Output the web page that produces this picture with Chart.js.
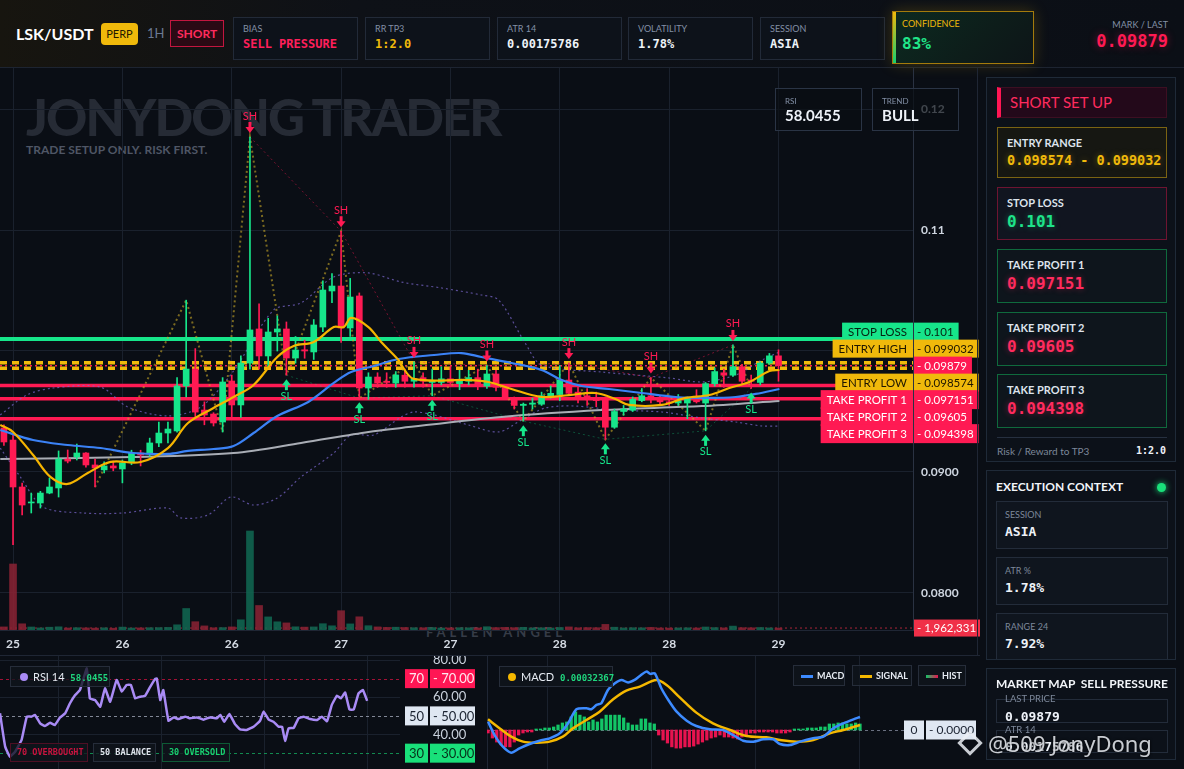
<!DOCTYPE html>
<html>
<head>
<meta charset="utf-8">
<title>LSK/USDT short setup</title>
<script src="https://cdn.jsdelivr.net/npm/chart.js@4.4.1/dist/chart.umd.min.js"></script>
<style>
  * { box-sizing: border-box; margin: 0; padding: 0; }
  body { width: 1184px; height: 769px; overflow: hidden; background: #0a0e15; color: #e6ebf2;
         font-family: Lato, "Noto Sans", sans-serif; position: relative; }
  .abs { position: absolute; }
  .mono { font-family: "DejaVu Sans Mono", "Liberation Mono", monospace; font-weight: bold; }
  #topbar { left: 0; top: 0; width: 1184px; height: 68px; border-bottom: 1px solid #1d2431;
            background: linear-gradient(90deg, #17150f 0%, #0e1117 30%, #0b0f16 100%); }
  .pair { left: 16px; top: 24px; font-size: 16px; font-weight: 700; color: #fff; }
  .perp { left: 101px; top: 23px; width: 37px; height: 22px; border-radius: 4px; background: #f0b90b;
          color: #241a00; font-size: 11px; text-align: center; line-height: 22px; }
  .tf { left: 147px; top: 25px; font-size: 13px; color: #6b7a92; }
  .side { left: 170px; top: 20px; width: 54px; height: 27px; border: 1px solid #c3163f; background: #2a0a14;
          color: #ff2b5e; font-size: 12px; font-weight: 700; text-align: center; line-height: 25px; }
  .stat { top: 17px; width: 125px; height: 43px; border: 1px solid #222a38; background: #0d121a; }
  .stat .lbl { position: absolute; left: 9px; top: 5px; font-size: 9px; color: #8390a6; }
  .stat .val { position: absolute; left: 9px; top: 19px; font-size: 12px; color: #eef2f8; }
  .conf { left: 892px; top: 11px; width: 142px; height: 53px; border: 1px solid #a47b0c;
          background: linear-gradient(135deg, #0c2a20 0%, #0d1d1a 60%, #0d1518 100%);
          box-shadow: 0 0 14px rgba(240,185,11,0.22); }
  .conf:before { content: ""; position: absolute; left: 0; top: 0; width: 3px; height: 100%;
                 background: linear-gradient(#f0b90b, #18d070); }
  .mark-l { right: 16px; top: 19px; font-size: 9px; color: #8390a6; }
  .mark-v { right: 16px; top: 31px; font-size: 17px; color: #ff1a53; text-shadow: 0 0 8px rgba(255,26,83,0.4); }

  .wm1 { left: 26px; top: 18px; font-size: 51px; font-weight: 900; color: #262b35; letter-spacing: -2px; white-space: nowrap; }
  .wm2 { left: 26px; top: 74px; font-size: 12px; font-weight: 700; color: #4f5665; white-space: nowrap; }
  .wm3 { left: 426px; top: 556px; font-size: 13px; font-weight: 700; color: #363c47; letter-spacing: 4px; white-space: nowrap; }
  .mini { top: 20px; width: 87px; height: 43px; border: 1px solid #2a3445; background: rgba(10,14,20,0.72); }
  .mini .lbl { position: absolute; left: 9px; top: 7px; font-size: 8px; color: #8390a6; }
  .mini .val { position: absolute; left: 9px; top: 17px; font-size: 15px; font-weight: 700; color: #eef2f8; }

  .panel { border: 1px solid #1f2a38; background: #0c1119; overflow: hidden; }
  .hdr { left: 10px; top: 9px; width: 170px; height: 31px; background: #23091a; border: 1px solid #3d0f22;
         border-left: 4px solid #ff1654; color: #ff2b5e; font-size: 15px; line-height: 29px; padding-left: 9px; }
  .card { left: 10px; width: 170px; }
  .card .lbl { position: absolute; left: 9px; top: 8px; font-size: 11px; font-weight: 700; color: #dde3ec; }
  .card .val { position: absolute; left: 9px; top: 24px; font-size: 16px; }
  .ctx { left: 9px; width: 172px; height: 48px; border: 1px solid #232c3a; background: #0f151e; }
  .ctx .lbl { position: absolute; left: 8px; top: 7px; font-size: 9px; color: #7d889a; }
  .ctx .val { position: absolute; left: 8px; top: 22px; font-size: 13px; color: #eef2f8; }
  .ttl { font-size: 12px; font-weight: 700; color: #f2f5f9; }
  .chip { height: 21px; border: 1px solid #262d3a; background: rgba(15,20,28,0.78); font-size: 11px;
          line-height: 19px; white-space: nowrap; }
  .tag { top: 743px; height: 19px; font-size: 8.5px; line-height: 17px; padding-left: 6px; }
</style>
</head>
<body>

<div id="topbar" class="abs">
  <div class="abs pair">LSK/USDT</div>
  <div class="abs perp">PERP</div>
  <div class="abs tf">1H</div>
  <div class="abs side">SHORT</div>
  <div class="abs stat" style="left:233px"><div class="lbl">BIAS</div><div class="val mono" style="color:#ff1f5a">SELL PRESSURE</div></div>
  <div class="abs stat" style="left:365px"><div class="lbl">RR TP3</div><div class="val mono" style="color:#f0b90b">1:2.0</div></div>
  <div class="abs stat" style="left:497px"><div class="lbl">ATR 14</div><div class="val mono">0.00175786</div></div>
  <div class="abs stat" style="left:628px"><div class="lbl">VOLATILITY</div><div class="val mono">1.78%</div></div>
  <div class="abs stat" style="left:760px"><div class="lbl">SESSION</div><div class="val mono">ASIA</div></div>
  <div class="abs conf">
    <div class="abs" style="left:9px;top:6px;font-size:9px;color:#f0b90b">CONFIDENCE</div>
    <div class="abs mono" style="left:9px;top:22px;font-size:16px;color:#20e68a">83%</div>
  </div>
  <div class="abs mark-l">MARK / LAST</div>
  <div class="abs mark-v mono">0.09879</div>
</div>

<div class="abs" style="left:0;top:68px;width:980px;height:587px">
  <div class="abs wm1">JONYDONG TRADER</div>
  <div class="abs wm2">TRADE SETUP ONLY. RISK FIRST.</div>
  <div class="abs wm3">FALLEN ANGEL</div>
  <canvas id="main" class="abs" style="left:0;top:0" width="980" height="587"></canvas>
  <div class="abs mini" style="left:775px"><div class="lbl">RSI</div><div class="val">58.0455</div></div>
  <div class="abs mini" style="left:872px"><div class="lbl">TREND</div><div class="val">BULL</div></div>
</div>
<div class="abs" style="left:977px;top:68px;width:1px;height:587px;background:#1f2634"></div>
<div class="abs" style="left:0;top:655px;width:980px;height:1px;background:#1f2634"></div>
<div class="abs" style="left:487px;top:656px;width:1px;height:113px;background:#1f2634"></div>

<canvas id="rsi" class="abs" style="left:0;top:656px" width="484" height="113"></canvas>
<canvas id="macd" class="abs" style="left:487px;top:656px" width="497" height="113"></canvas>

<div class="abs chip" style="left:10px;top:666px;width:100px;padding-left:9px">
  <span style="display:inline-block;width:8px;height:8px;border-radius:50%;background:#a98bf5;margin-right:5px"></span><span style="color:#e6ebf2">RSI 14</span>
  <span class="mono" style="color:#20d67e;font-size:9px;margin-left:3px">58.0455</span>
</div>
<div class="abs chip tag mono" style="left:10px;width:78px;border-color:#4e0f24;color:#c8143f">70 OVERBOUGHT</div>
<div class="abs chip tag mono" style="left:93px;width:63px;color:#dfe4ec">50 BALANCE</div>
<div class="abs chip tag mono" style="left:162px;width:68px;border-color:#0d5a35;color:#19d070">30 OVERSOLD</div>

<div class="abs chip" style="left:499px;top:666px;width:114px;padding-left:8px">
  <span style="display:inline-block;width:8px;height:8px;border-radius:50%;background:#f5b800;margin-right:5px"></span><span style="color:#e6ebf2">MACD</span>
  <span class="mono" style="color:#20d67e;font-size:9px;margin-left:3px">0.00032367</span>
</div>
<div class="abs chip" style="left:793px;top:665px;width:52px;padding-left:7px;font-size:9px;font-weight:700">
  <span style="display:inline-block;width:12px;height:3px;background:#3d8bff;vertical-align:middle;margin-right:4px"></span>MACD</div>
<div class="abs chip" style="left:852px;top:665px;width:60px;padding-left:7px;font-size:9px;font-weight:700">
  <span style="display:inline-block;width:12px;height:3px;background:#f5b800;vertical-align:middle;margin-right:4px"></span>SIGNAL</div>
<div class="abs chip" style="left:918px;top:665px;width:48px;padding-left:7px;font-size:9px;font-weight:700">
  <span style="display:inline-block;width:12px;height:3px;background:linear-gradient(90deg,#13c567,#e8134f);vertical-align:middle;margin-right:4px"></span>HIST</div>

<div class="abs panel" style="left:986px;top:77px;width:190px;height:385px">
  <div class="abs hdr">SHORT SET UP</div>
  <div class="abs card" style="top:49px;height:51px;border:1px solid #7a6312;background:rgba(36,30,10,0.45)">
    <div class="lbl">ENTRY RANGE</div><div class="val mono" style="font-size:13.5px;color:#f0b90b;text-shadow:0 0 6px rgba(240,185,11,0.35)">0.098574 - 0.099032</div></div>
  <div class="abs card" style="top:109px;height:53px;border:1px solid #6e1431;background:#111520">
    <div class="lbl">STOP LOSS</div><div class="val mono" style="color:#1ee38a;text-shadow:0 0 6px rgba(30,227,138,0.4)">0.101</div></div>
  <div class="abs card" style="top:171px;height:54px;border:1px solid #0f6a3d;background:#0e151c">
    <div class="lbl">TAKE PROFIT 1</div><div class="val mono" style="color:#ff2b5e;text-shadow:0 0 6px rgba(255,43,94,0.4)">0.097151</div></div>
  <div class="abs card" style="top:234px;height:54px;border:1px solid #0f6a3d;background:#0e151c">
    <div class="lbl">TAKE PROFIT 2</div><div class="val mono" style="color:#ff2b5e;text-shadow:0 0 6px rgba(255,43,94,0.4)">0.09605</div></div>
  <div class="abs card" style="top:296px;height:54px;border:1px solid #0f6a3d;background:#0e151c">
    <div class="lbl">TAKE PROFIT 3</div><div class="val mono" style="color:#ff2b5e;text-shadow:0 0 6px rgba(255,43,94,0.4)">0.094398</div></div>
  <div class="abs" style="left:10px;top:359px;width:170px;height:1px;background:#263040"></div>
  <div class="abs" style="left:10px;top:367px;font-size:10px;color:#7d889a">Risk / Reward to TP3</div>
  <div class="abs mono" style="right:9px;top:367px;font-size:10px;color:#eef2f8">1:2.0</div>
</div>

<div class="abs panel" style="left:986px;top:470px;width:190px;height:190px">
  <div class="abs ttl" style="left:9px;top:8px">EXECUTION CONTEXT</div>
  <div class="abs" style="right:9px;top:12px;width:9px;height:9px;border-radius:50%;background:#19e07a;box-shadow:0 0 6px #19e07a"></div>
  <div class="abs ctx" style="top:30px"><div class="lbl">SESSION</div><div class="val mono">ASIA</div></div>
  <div class="abs ctx" style="top:86px"><div class="lbl">ATR %</div><div class="val mono">1.78%</div></div>
  <div class="abs ctx" style="top:142px"><div class="lbl">RANGE 24</div><div class="val mono">7.92%</div></div>
</div>

<div class="abs panel" style="left:986px;top:668px;width:190px;height:92px">
  <div class="abs ttl" style="left:9px;top:7px">MARKET MAP</div>
  <div class="abs ttl" style="right:7px;top:7px">SELL PRESSURE</div>
  <div class="abs" style="left:9px;top:30px;width:172px;height:24px;border:1px solid #232c3a"></div>
  <div class="abs" style="left:18px;top:24px;font-size:9.5px;color:#7d889a">LAST PRICE</div>
  <div class="abs mono" style="left:18px;top:40px;font-size:13px;color:#eef2f8">0.09879</div>
  <div class="abs" style="left:9px;top:61px;width:172px;height:23px;border:1px solid #232c3a"></div>
  <div class="abs" style="left:18px;top:55px;font-size:9.5px;color:#7d889a">ATR 14</div>
  <div class="abs mono" style="left:18px;top:70px;font-size:13px;color:#eef2f8">0.00175786</div>
</div>

<div class="abs" style="left:961px;top:734px;width:18px;height:18px;border:3px solid rgba(235,238,245,0.85);transform:rotate(45deg)"></div>
<div class="abs" style="left:988px;top:728px;font-size:22px;font-family:'Noto Sans',sans-serif;color:rgba(235,238,245,0.85);text-shadow:0 0 3px #000;white-space:nowrap">@509 JonyDong</div>

<script>
// ---- candles (1H), index 0..85 ----
const open = [0.09364,0.09264,0.08876,0.08744,0.08744,0.08826,0.08868,0.09107,0.09124,0.09157,
  0.09058,0.09017,0.0905,0.09025,0.09083,0.09157,0.09149,0.0924,0.09322,0.09339,
  0.09711,0.09851,0.09512,0.09479,0.09413,0.09752,0.09554,0.0990,0.10182,0.09959,
  0.10157,0.10182,0.09942,0.1001,0.09992,0.10198,0.10496,0.10537,0.1019,0.10455,
  0.09694,0.09785,0.0975,0.09735,0.0980,0.0975,0.0978,0.0974,0.0974,0.0977,
  0.0973,0.0975,0.0978,0.0971,0.0981,0.0970,0.0961,0.0955,0.0956,0.0956,
  0.0962,0.0964,0.0976,0.0966,0.0963,0.0961,0.0960,0.0937,0.0950,0.0951,
  0.0959,0.0963,0.0960,0.0958,0.0957,0.0957,0.0961,0.0957,0.0973,0.0982,
  0.0980,0.0987,0.0976,0.0974,0.0990,0.0996];
const high = [0.0939,0.0932,0.08909,0.08826,0.0884,0.0895,0.09174,0.09182,0.09231,0.0916,
  0.09107,0.09083,0.0909,0.09099,0.0918,0.0918,0.0928,0.09413,0.09413,0.0978,
  0.1042,0.1002,0.0958,0.0949,0.0978,0.0980,0.0996,0.11769,0.1039,0.1027,
  0.1029,0.1024,0.1012,0.1009,0.1026,0.1058,0.1064,0.1099,0.1060,0.1048,
  0.0982,0.0982,0.0982,0.0983,0.0985,0.0991,0.0982,0.0985,0.0987,0.0987,
  0.0984,0.0984,0.0985,0.0988,0.0984,0.0972,0.0962,0.0957,0.0961,0.0966,
  0.0971,0.0988,0.0990,0.0971,0.0969,0.0966,0.0962,0.0952,0.0955,0.0962,
  0.0969,0.0978,0.0963,0.0962,0.0964,0.0962,0.0968,0.0974,0.0986,0.0985,
  0.1005,0.0989,0.0980,0.0991,0.0998,0.1001];
const low = [0.0922,0.0840,0.08645,0.08661,0.08702,0.0882,0.08793,0.09075,0.09099,0.0904,
  0.08876,0.08992,0.0901,0.0891,0.0906,0.0905,0.0913,0.0921,0.0924,0.0933,
  0.0962,0.09455,0.0939,0.0938,0.0933,0.0945,0.0945,0.0985,0.0985,0.0987,
  0.1000,0.0980,0.0990,0.0994,0.0993,0.1016,0.1040,0.1007,0.1012,0.0961,
  0.0960,0.0970,0.0970,0.0970,0.0970,0.0970,0.0970,0.0963,0.0972,0.0972,
  0.0968,0.0972,0.0968,0.0969,0.0967,0.0960,0.0952,0.0942,0.0952,0.0955,
  0.0961,0.0959,0.0964,0.0957,0.0955,0.0954,0.0927,0.0936,0.0947,0.0950,
  0.0958,0.0957,0.0956,0.0955,0.0955,0.0944,0.0957,0.0934,0.0971,0.0970,
  0.0979,0.0971,0.0969,0.0972,0.0989,0.0975];
const close = [0.09248,0.08876,0.08727,0.08752,0.08826,0.08876,0.09107,0.0909,0.09157,0.09058,
  0.09033,0.0905,0.09033,0.09075,0.09157,0.0914,0.0924,0.09322,0.09355,0.09711,
  0.09851,0.09495,0.09471,0.09405,0.09744,0.09554,0.0990,0.10174,0.09959,0.10157,
  0.10182,0.09942,0.10008,0.1000,0.10215,0.10504,0.10537,0.1019,0.10446,0.09694,
  0.09785,0.09735,0.0974,0.09802,0.0975,0.0977,0.0975,0.0975,0.0977,0.0974,
  0.0975,0.0978,0.0973,0.0981,0.0970,0.0961,0.0955,0.0956,0.0957,0.0963,
  0.0965,0.0976,0.0965,0.0962,0.0960,0.0959,0.0937,0.0950,0.0952,0.0960,
  0.0963,0.0960,0.0958,0.0957,0.0959,0.0961,0.0958,0.0973,0.0983,0.0980,
  0.0987,0.0975,0.0975,0.0990,0.0996,0.09879];
const volume = [3100000,66000000,6200000,3000000,2100000,2800000,3200000,2000000,2300000,2100000,
  1900000,2200000,1800000,2900000,2000000,2100000,2300000,2400000,2600000,5200000,
  21500000,8300000,4100000,2200000,2400000,3100000,10200000,99000000,24500000,13100000,
  8200000,7100000,3200000,2900000,3100000,6300000,4200000,19300000,6100000,13200000,
  4300000,3100000,2600000,2800000,2500000,2300000,2200000,2400000,2000000,2100000,
  2300000,2200000,2000000,3300000,2400000,2600000,2300000,2700000,2100000,2200000,
  2000000,2500000,3100000,2200000,2400000,2300000,5600000,2800000,2100000,2300000,
  2200000,2600000,2000000,1900000,2100000,2200000,2000000,3000000,2400000,2100000,
  3900000,2300000,2200000,2500000,2100000,1962331];

// x-axis day labels, every 12 bars
const dayTicks = [1, 13, 25, 37, 49, 61, 73, 85];
const dayLabels = ['25', '26', '26', '27', '27', '28', '28', '29'];
const priceTicks = [0.08, 0.09, 0.10, 0.11, 0.12];

// indicator lines: [bar index, price]
const emaFast = [[-0.4,0.09389],[1,0.09331],[3.2,0.0914],[5.1,0.08959],[7,0.08901],[9.2,0.08992],[11.7,0.09083],
  [15,0.09083],[18,0.09198],[20.2,0.09405],[23,0.09529],[25.2,0.0962],[27.4,0.09719],[30,0.0995],[31.8,0.10041],
  [34,0.10074],[36.2,0.10198],[37.3,0.10198],[38.1,0.10273],[40,0.10198],[41.4,0.10074],[43.3,0.09926],[43.6,0.09884],
  [45,0.09769],[51,0.0976],[53.2,0.09744],[55.7,0.09686],[59,0.0962],[62,0.09636],[64.9,0.09653],[67.1,0.09603],
  [68.6,0.09554],[72.2,0.09554],[74.8,0.09612],[77.4,0.09636],[79.6,0.09694],[81.8,0.09744],[84,0.09835],[85.1,0.09843]];
const emaSlow = [[-0.4,0.09347],[3.2,0.09264],[7,0.09223],[10.6,0.09198],[14.2,0.09157],[18,0.09149],[20.2,0.09174],
  [23,0.0919],[25.2,0.09215],[27.4,0.09322],[30,0.09463],[33.4,0.09579],[36.2,0.09736],[38.1,0.09826],[40.6,0.09876],
  [43.3,0.09934],[47.2,0.09967],[50.2,0.09983],[52.4,0.0995],[55.7,0.09901],[59,0.09843],[61.2,0.0976],[63.4,0.09711],
  [66.4,0.09686],[70,0.09653],[73.7,0.0962],[77.4,0.09612],[80.3,0.0962],[82.5,0.09645],[85.1,0.09686]];
const smaLong = [[-0.4,0.09107],[14.2,0.09124],[25.2,0.09157],[32.6,0.0924],[40,0.09331],[43.6,0.09364],
  [54.6,0.09455],[65.6,0.09512],[76.6,0.09545],[85.1,0.09587]];
const bbUpper = [[-0.4,0.09471],[2.5,0.09636],[5.4,0.09694],[10.6,0.09702],[13.6,0.09537],[18,0.09463],[21.6,0.09537],
  [25.2,0.09835],[29.6,0.10339],[32.6,0.10397],[36.2,0.10612],[40,0.10645],[43.6,0.1057],[48,0.10521],[52.4,0.10463],
  [54.3,0.10421],[57.2,0.10066],[59,0.09884],[65.6,0.09826],[73,0.09777],[76.6,0.09744],[80.3,0.09802],[83.2,0.09926],[85.1,0.09992]];
const bbLower = [[-0.4,0.09198],[1.8,0.08959],[4.3,0.08711],[8.7,0.08661],[13.1,0.08661],[18,0.08702],[19.4,0.0862],
  [22.4,0.08645],[24.9,0.08793],[27.4,0.08727],[30,0.08785],[32.6,0.08959],[36.2,0.09157],[38.1,0.09306],[40.6,0.09306],
  [43.6,0.09455],[45,0.09496],[47.2,0.09471],[51,0.09388],[54.3,0.09331],[56.8,0.0943],[59.4,0.09529],[62.7,0.09545],
  [67.1,0.09512],[72.2,0.09496],[76.6,0.09446],[80.3,0.09413],[83.2,0.0938],[85.1,0.0938]];

// swing pivots (zigzag); markers start from bar 27
const pivotIdx = [10, 20, 24, 27, 31, 37, 39, 45, 47, 53, 57, 62, 66, 71, 77, 80, 82];
const pivotSide = ['L','H','L','H','L','H','L','H','L','H','L','H','L','H','L','H','L'];
const markerFrom = 27;

// trade levels
const levelNames = ['STOP LOSS', 'ENTRY HIGH', '', 'ENTRY LOW', 'TAKE PROFIT 1', 'TAKE PROFIT 2', 'TAKE PROFIT 3'];
const levelValues = [0.101, 0.099032, 0.09879, 0.098574, 0.097151, 0.09605, 0.094398];
const levelText = ['0.101', '0.099032', '0.09879', '0.098574', '0.097151', '0.09605', '0.094398'];

// RSI 14: [bar index] / [value]
const rsiIdx = [0,1.2,2.3,3.5,5,6.2,7.3,8.1,9.3,10.4,11.6,12.7,13.9,15.1,16.2,17.4,18.5,20.1,20.8,22,23.2,24.3,25.5,
  27,28.2,29.3,30.3,31.3,32.4,33.6,34.7,35.9,36.3,37.1,37.8,39,40.2,41.3,42.9,44,45.6,47.1,48.6,50.2,51,51.9,53.1,
  54.4,55.6,57.1,58.7,60.2,61,62.2,63.3,64.5,65.3,66,66.8,68,69.1,70.3,71.8,73.4,74.5,75.7,76.8,78,78.9,79.9,80.9,
  81.9,83,84,85];
const rsiVal = [51.4,33.5,28.1,30.8,37.1,49.6,49.6,50.5,46.0,44.6,46.3,45.1,49.2,51.4,56.8,61.2,63.9,75.5,59.4,58.5,
  54.9,64.8,57.6,69.3,63.0,66.6,66.6,59.4,60.3,60.8,65.3,69.8,70.0,58.5,63.9,47.4,49.2,48.3,49.6,48.7,49.2,48.0,
  49.2,48.7,50.5,46.9,51.0,45.6,42.8,42.4,44.2,47.4,52.3,48.0,46.9,44.2,44.2,36.5,43.3,43.6,48.7,49.6,48.3,47.8,
  49.6,47.1,55.8,60.8,59.4,62.5,53.5,53.5,62.1,63.9,58.05];
const rsiLevels = [70, 50, 30];
const rsiTicks = [80, 60, 40];
const subGrid = [13.6, 37.4, 61.2, 85];

// MACD
const macdIdx = [0,1.5,3.4,5.3,7.2,9.5,11.8,14.1,16.4,18.3,20.2,22.5,23.6,24.8,25.9,27.4,29,30.5,32,33.5,34.7,36.2,
  37.1,38.1,39.6,41.2,43.1,45.4,47.6,50.7,53.7,56,58.3,60.6,62.9,65.2,66.7,69,71.3,74.3,76.6,78.9,81.2,83.5,85];
const macdVal = [0.00021,-0.000125,-0.000415,-0.000564,-0.000456,-0.000349,-0.000266,-0.000207,-0.000083,0.000166,
  0.000515,0.00054,0.000515,0.000623,0.000664,0.000996,0.00116,0.001245,0.00118,0.001245,0.001345,0.001452,0.001395,
  0.00141,0.001038,0.000747,0.000456,0.000232,0.0001,0.000017,0,-0.000125,-0.000266,-0.00029,-0.000232,-0.000232,
  -0.000349,-0.000374,-0.00029,-0.000207,-0.000166,0.000042,0.000166,0.000266,0.00032367];
const signalIdx = [0,2.7,5.3,8,11,14.1,17.1,19.4,22.5,25.5,28.6,31.6,34.7,38.5,40.8,43.8,47.6,51.4,55.3,59.1,63.6,
  66.7,70.5,74.3,78.1,81.2,85];
const signalVal = [0.000266,0.00004,-0.000166,-0.00029,-0.000315,-0.00029,-0.000166,0.00004,0.000249,0.000456,
  0.000764,0.000979,0.00108,0.001245,0.00112,0.000813,0.000432,0.000166,0,-0.000149,-0.000183,-0.000249,-0.00029,
  -0.000249,-0.000083,0,0.000125];
const histVal = [-0.000075,-0.0002,-0.0003,-0.00037,-0.00042,-0.00042,-0.0003,-0.000125,-0.000075,-0.00005,-0.00005,
  0.000025,0.000025,0.00005,0.00005,0.000075,0.000125,0.000175,0.0002,0.000325,0.00045,
  0.00037,0.000325,0.0002,0.00025,0.0002,0.000275,0.00037,0.00037,0.00037,0.00037,
  0.0003,0.000175,0.000125,0.000125,0.000275,0.000275,0.000175,0.00015,-0.000125,-0.00025,
  -0.000325,-0.00042,-0.00045,-0.00045,-0.00042,-0.00042,-0.0004,-0.00035,-0.0003,-0.00025,
  -0.0002,-0.000175,-0.000125,-0.000175,-0.000175,-0.0002,-0.000225,-0.000175,-0.000125,-0.000075,
  -0.000075,-0.00005,-0.00005,-0.00005,-0.00005,-0.000075,-0.000075,-0.000075,-0.00005,0.000025,
  0.000025,0.000025,0.00005,0.00005,0.00005,0.000075,0.000075,0.00015,0.00015,0.000175,
  0.000175,0.00015,0.00015,0.000175,0.00015];

const UP = '#16e58a', DOWN = '#ff1a53';
const SANS = 'Lato, "Noto Sans", sans-serif';

const bars = open.map((_, i) => i);
const upBar = bars.map(i => close[i] >= open[i]);
const candleCol = upBar.map(u => u ? UP : DOWN);
const pairs = arr => arr.map(p => ({ x: p[0], y: p[1] }));
const zip = (xs, ys) => xs.map((x, k) => ({ x, y: ys[k] }));
// keep the plot area flush with the canvas edges
const noPad = s => { s.paddingTop = 0; s.paddingBottom = 0; s.paddingLeft = 0; s.paddingRight = 0; };

const pivots = pivotIdx.map((i, k) => ({ x: i, y: pivotSide[k] === 'H' ? high[i] : low[i], side: pivotSide[k] }));
const swingHighs = pivots.filter(p => p.side === 'H' && p.x >= markerFrom);
const swingLows = pivots.filter(p => p.side === 'L' && p.x >= markerFrom);

function levelStyle(k) {
  if (k === 0) return { line: UP, bg: UP, fg: '#06200f', w: 4, dash: [] };
  if (k === 1 || k === 3) return { line: '#f0b90b', bg: '#f0b90b', fg: '#1e1600', w: 3.5, dash: [7, 5] };
  if (k === 2) return { line: DOWN, bg: DOWN, fg: '#ffffff', w: 1.5, dash: [2, 3] };
  return { line: DOWN, bg: DOWN, fg: '#ffffff', w: 3.5, dash: [] };
}

function box(ctx, x, yc, w, h, bg, fg, text, font, align) {
  ctx.fillStyle = bg;
  ctx.fillRect(x, yc - h / 2, w, h);
  ctx.fillStyle = fg;
  ctx.font = font;
  ctx.textBaseline = 'middle';
  ctx.textAlign = align || 'center';
  ctx.fillText(text, align === 'left' ? x + 3 : x + w / 2, yc + 0.5);
}

const mainPlugin = {
  id: 'tradeLevels',
  beforeDatasetsDraw(chart) {
    const { ctx, chartArea: a, scales } = chart;
    ctx.save();
    levelValues.forEach((v, k) => {
      const s = levelStyle(k), py = scales.y.getPixelForValue(v);
      ctx.strokeStyle = s.line; ctx.lineWidth = s.w; ctx.setLineDash(s.dash);
      ctx.beginPath(); ctx.moveTo(a.left, py); ctx.lineTo(a.right, py); ctx.stroke();
    });
    const vy = scales.yv.getPixelForValue(volume[volume.length - 1]);
    ctx.strokeStyle = 'rgba(240,48,72,0.7)'; ctx.lineWidth = 1; ctx.setLineDash([2, 3]);
    ctx.beginPath(); ctx.moveTo(a.left, vy); ctx.lineTo(a.right, vy); ctx.stroke();
    ctx.restore();
  },
  afterDatasetsDraw(chart) {
    const { ctx, scales: { x, y } } = chart;
    ctx.save();
    ctx.font = '11px ' + SANS;
    ctx.textAlign = 'center';
    ctx.textBaseline = 'middle';
    const arrow = (px, tip, dir, col) => {
      ctx.fillStyle = col;
      ctx.fillRect(px - 1.5, tip - dir * 11, 3, dir * 6);
      ctx.beginPath();
      ctx.moveTo(px - 4.5, tip - dir * 6); ctx.lineTo(px + 4.5, tip - dir * 6); ctx.lineTo(px, tip);
      ctx.closePath(); ctx.fill();
    };
    swingHighs.forEach(p => {
      const px = x.getPixelForValue(p.x), py = y.getPixelForValue(p.y);
      arrow(px, py - 4, 1, DOWN);
      ctx.fillText('SH', px, py - 21);
    });
    swingLows.forEach(p => {
      const px = x.getPixelForValue(p.x), py = y.getPixelForValue(p.y);
      arrow(px, py + 4, -1, UP);
      ctx.fillStyle = UP;
      ctx.fillText('SL', px, py + 21);
    });
    ctx.restore();
  },
  afterDraw(chart) {
    const { ctx, chartArea: a, scales } = chart;
    ctx.save();
    const f = '11.5px ' + SANS;
    ctx.font = f;
    const anchor = levelValues.indexOf(close[close.length - 1]);
    const ay = scales.y.getPixelForValue(levelValues[anchor]);
    levelValues.forEach((v, k) => {
      const s = levelStyle(k), ly = ay + (k - anchor) * 17;
      const h = k >= 4 ? 19 : 18;
      if (levelNames[k]) {
        ctx.font = f;
        const w = ctx.measureText(levelNames[k]).width + 12;
        box(ctx, a.right - w, ly, w, h, s.bg, s.fg, levelNames[k], f);
      }
      ctx.font = f;
      const t = '- ' + levelText[k];
      const vw = ctx.measureText(t).width + 8;
      box(ctx, a.right + 1, ly, vw, h, s.bg, s.fg, t, f, 'left');
    });
    const vv = volume[volume.length - 1];
    const vy = scales.yv.getPixelForValue(vv);
    const vt = '- ' + vv.toLocaleString('en-US');
    ctx.font = f;
    box(ctx, a.right + 1, vy, ctx.measureText(vt).width + 8, 17, '#f03048', '#ffffff', vt, f, 'left');
    ctx.restore();
  }
};

new Chart(document.getElementById('main'), {
  type: 'bar',
  data: {
    datasets: [
      { type: 'line', data: pairs(emaFast), borderColor: '#f5b400', borderWidth: 2.2, pointRadius: 0, tension: 0.35, order: 1 },
      { type: 'line', data: pairs(emaSlow), borderColor: '#3b82f6', borderWidth: 2.2, pointRadius: 0, tension: 0.35, order: 2 },
      { data: bars.map(i => ({ x: i, y: [open[i], close[i]] })), backgroundColor: candleCol, barThickness: 6,
        minBarLength: 1, grouped: false, order: 3 },
      { data: bars.map(i => ({ x: i, y: [low[i], high[i]] })), backgroundColor: candleCol, barThickness: 1,
        grouped: false, order: 4 },
      { type: 'line', data: pairs(smaLong), borderColor: '#a9adb5', borderWidth: 2, pointRadius: 0, tension: 0.3, order: 5 },
      { type: 'line', data: pivots.map(p => ({ x: p.x, y: p.y })), borderColor: 'rgba(200,168,40,0.6)', borderWidth: 2,
        borderDash: [2, 3], pointRadius: 0, order: 6 },
      { type: 'line', data: swingHighs, borderColor: 'rgba(255,26,83,0.45)', borderWidth: 1, borderDash: [2, 3], pointRadius: 0, order: 6 },
      { type: 'line', data: swingLows, borderColor: 'rgba(22,229,138,0.3)', borderWidth: 1, borderDash: [2, 3], pointRadius: 0, order: 6 },
      { type: 'line', data: pairs(bbUpper), borderColor: 'rgba(125,105,210,0.7)', borderWidth: 1.2, borderDash: [2, 3], pointRadius: 0, tension: 0.3, order: 7 },
      { type: 'line', data: pairs(bbLower), borderColor: 'rgba(125,105,210,0.7)', borderWidth: 1.2, borderDash: [2, 3], pointRadius: 0, tension: 0.3, order: 7 },
      { data: bars.map(i => ({ x: i, y: volume[i] })), yAxisID: 'yv', barThickness: 7, grouped: false,
        backgroundColor: upBar.map(u => u ? 'rgba(16,105,82,0.85)' : 'rgba(140,34,52,0.85)'), order: 9 }
    ]
  },
  options: {
    responsive: false, animation: false,
    layout: { padding: 0 },
    plugins: { legend: { display: false }, tooltip: { enabled: false } },
    scales: {
      x: {
        type: 'linear', min: -0.43, max: 99.76, offset: false,
        afterBuildTicks: s => { s.ticks = dayTicks.map(v => ({ value: v })); },
        afterFit: s => { s.height = 25; noPad(s); },
        ticks: { autoSkip: false, maxRotation: 0, padding: 7, color: '#d6dce5', font: { family: SANS, size: 12, weight: 'bold' },
                 callback: (v, k) => dayLabels[k] },
        grid: { color: '#1a212d', drawTicks: false, offset: false },
        border: { color: '#1f2634' }
      },
      y: {
        position: 'right', min: 0.07694, max: 0.12339,
        afterBuildTicks: s => { s.ticks = priceTicks.map(v => ({ value: v })); },
        afterFit: s => { s.width = 67; noPad(s); },
        ticks: { padding: 8, color: '#cfd6e0', font: { family: SANS, size: 12, weight: 'bold' },
                 callback: v => v >= 0.1 ? v.toFixed(2) : v.toFixed(4) },
        grid: { color: '#1a212d', drawTicks: false },
        border: { color: '#2a3242' }
      },
      yv: { display: false, min: 0, max: 562000000 }
    }
  },
  plugins: [mainPlugin]
});

// ---- RSI ----
const rsiPlugin = {
  id: 'rsiLevels',
  beforeDatasetsDraw(chart) {
    const { ctx, chartArea: a, scales: { y } } = chart;
    const col = ['rgba(200,20,63,0.8)', 'rgba(160,168,184,0.8)', 'rgba(20,170,95,0.8)'];
    ctx.save();
    ctx.lineWidth = 1; ctx.setLineDash([3, 3]);
    rsiLevels.forEach((v, k) => {
      const py = Math.round(y.getPixelForValue(v)) + 0.5;
      ctx.strokeStyle = col[k];
      ctx.beginPath(); ctx.moveTo(a.left, py); ctx.lineTo(a.right, py); ctx.stroke();
    });
    ctx.restore();
  },
  afterDraw(chart) {
    const { ctx, scales: { y } } = chart;
    ctx.save();
    const f = '13px ' + SANS;
    ctx.fillStyle = '#c9d1dc'; ctx.font = f; ctx.textAlign = 'left'; ctx.textBaseline = 'middle';
    rsiTicks.forEach(v => ctx.fillText(v.toFixed(2), 433, y.getPixelForValue(v)));
    const bg = ['#ff1654', '#dfe7f2', '#19e07a'], fg = ['#ffe8ee', '#1a2230', '#07301a'];
    rsiLevels.forEach((v, k) => {
      const py = y.getPixelForValue(v);
      box(ctx, 405, py, 23, 19, bg[k], fg[k], String(v), f);
      box(ctx, 430, py, 45, 19, bg[k], fg[k], '- ' + v.toFixed(2), f, 'left');
    });
    ctx.restore();
  }
};

new Chart(document.getElementById('rsi'), {
  type: 'line',
  data: { datasets: [{ data: zip(rsiIdx, rsiVal), borderColor: '#a98bf5', borderWidth: 2.5, pointRadius: 0, tension: 0.1 }] },
  options: {
    responsive: false, animation: false, layout: { padding: 0 },
    plugins: { legend: { display: false }, tooltip: { enabled: false } },
    scales: {
      x: { type: 'linear', min: 0, max: 92.6,
           afterBuildTicks: s => { s.ticks = subGrid.map(v => ({ value: v })); },
           afterFit: s => { s.height = 0; noPad(s); },
           ticks: { display: false }, grid: { color: '#1a212d', drawTicks: false }, border: { display: false } },
      y: { position: 'right', min: 21.5, max: 82.15,
           afterBuildTicks: s => { s.ticks = rsiTicks.map(v => ({ value: v })); },
           afterFit: s => { s.width = 84; noPad(s); },
           ticks: { display: false }, grid: { color: '#1a212d', drawTicks: false }, border: { display: false } }
    }
  },
  plugins: [rsiPlugin]
});

// ---- MACD ----
const macdPlugin = {
  id: 'macdZero',
  beforeDatasetsDraw(chart) {
    const { ctx, chartArea: a, scales: { y } } = chart;
    const py = Math.round(y.getPixelForValue(0)) + 0.5;
    ctx.save();
    ctx.strokeStyle = 'rgba(130,138,155,0.8)'; ctx.lineWidth = 1; ctx.setLineDash([3, 3]);
    ctx.beginPath(); ctx.moveTo(a.left, py); ctx.lineTo(a.right + 4, py); ctx.stroke();
    ctx.restore();
  },
  afterDraw(chart) {
    const { ctx, scales: { y } } = chart;
    const py = y.getPixelForValue(0), f = '12px ' + SANS;
    ctx.save();
    box(ctx, 417, py, 20, 19, '#dfe7f2', '#1a2230', '0', f);
    box(ctx, 439, py, 50, 19, '#dfe7f2', '#1a2230', '- ' + (0).toFixed(4), f, 'left');
    ctx.restore();
  }
};

new Chart(document.getElementById('macd'), {
  type: 'bar',
  data: {
    datasets: [
      { type: 'line', data: zip(macdIdx, macdVal), borderColor: '#3d8bff', borderWidth: 2.5, pointRadius: 0, tension: 0.25, order: 1 },
      { type: 'line', data: zip(signalIdx, signalVal), borderColor: '#f5b800', borderWidth: 2.5, pointRadius: 0, tension: 0.35, order: 2 },
      { data: histVal.map((v, i) => ({ x: i, y: v })), barThickness: 2.6, grouped: false,
        backgroundColor: histVal.map(v => v >= 0 ? '#13c567' : '#e8134f'), order: 3 }
    ]
  },
  options: {
    responsive: false, animation: false, layout: { padding: 0 },
    plugins: { legend: { display: false }, tooltip: { enabled: false } },
    scales: {
      x: { type: 'linear', min: -0.23, max: 94.14, offset: false,
           afterBuildTicks: s => { s.ticks = subGrid.map(v => ({ value: v })); },
           afterFit: s => { s.height = 0; noPad(s); },
           ticks: { display: false }, grid: { color: '#1a212d', drawTicks: false, offset: false }, border: { display: false } },
      y: { position: 'right', min: -0.00097, max: 0.00184,
           afterFit: s => { s.width = 84; noPad(s); },
           ticks: { display: false }, grid: { display: false }, border: { display: false } }
    }
  },
  plugins: [macdPlugin]
});
</script>
</body>
</html>
